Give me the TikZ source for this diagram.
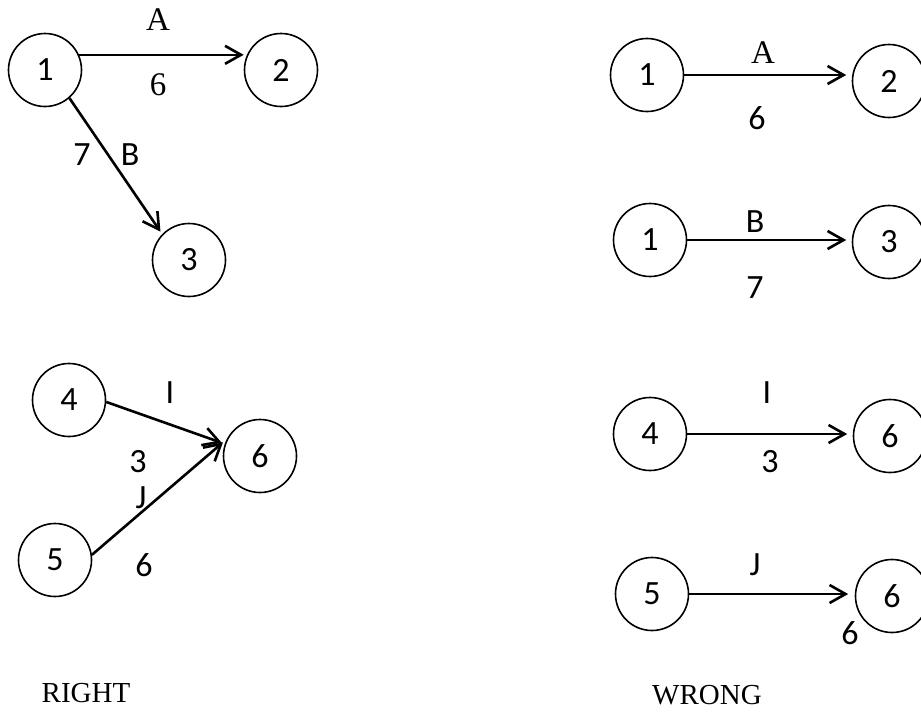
\documentclass[tikz,border=0pt]{standalone}
\usepackage{fontspec}
\setmainfont{Liberation Serif}
\setsansfont{Carlito}
\usetikzlibrary{arrows.meta}
\tikzset{
  ev/.style={draw,circle,minimum size=73pt,inner sep=0pt,line width=1.6pt},
  act/.style={-{Straight Barb[length=16pt,width=18pt]},line width=2.6pt},
  sf/.style={font=\sffamily\fontsize{34}{34}\selectfont},
  rm/.style={font=\rmfamily\fontsize{33}{33}\selectfont},
  ttl/.style={font=\rmfamily\fontsize{29}{29}\selectfont}
}
\begin{document}
\begin{tikzpicture}[x=1pt,y=-1pt]
      \useasboundingbox (0,0) rectangle (921,713);
      % right way
      \draw
        (45,70) node[ev,sf] (r1){1}
        (281,70) node[ev,sf] (r2){2}
        (189,260) node[ev,sf] (r3){3}
        (69,400) node[ev,sf] (r4){4}
        (260,456) node[ev,sf] (r6){6}
        (55,560) node[ev,sf] (r5){5};
      \begin{scope}[act]
        \draw (r1.24) -- (r1.24 -| r2.west);
        \draw[shorten >=3pt] (r1.-49) -- (r3.136);
        \draw[shorten >=3pt] (r4.-3) -- (r6.161);
        \draw[shorten >=5pt] (r5.8) -- (r6.153);
      \end{scope}
      \draw
        (158,20) node[rm] (rA){A}
        (158,85) node[rm] (rA6){6}
        (82,155) node[sf] (rB7){7}
        (130,155) node[sf] (rB){B}
        (170,393) node[sf] (rI){I}
        (138,462) node[sf] (rI3){3}
        (141,498) node[sf] (rJ){J}
        (144,565) node[sf] (rJ6){6}
        (86,693) node[ttl] (right){RIGHT};
      % wrong way
      \draw
        (647,75) node[ev,sf] (wa1){1}
        (889,81) node[ev,sf] (wa2){2}
        (650,240) node[ev,sf] (wb1){1}
        (889,242) node[ev,sf] (wb3){3}
        (650,434) node[ev,sf] (wi4){4}
        (890,436) node[ev,sf] (wi6){6}
        (652,594) node[ev,sf] (wj5){5}
        (892,596) node[ev,sf] (wj6){6};
      \begin{scope}[act,shorten >=5.5pt]
        \draw (wa1.east) -- (wa1.east -| wa2.west);
        \draw (wb1.east) -- (wb1.east -| wb3.west);
        \draw (wi4.east) -- (wi4.east -| wi6.west);
        \draw[shorten >=6.5pt] (wj5.east) -- (wj5.east -| wj6.west);
      \end{scope}
      \draw
        (763,53) node[rm] (wA){A}
        (757,118) node[sf] (wA6){6}
        (755,222) node[sf] (wB){B}
        (755,288) node[sf] (wB7){7}
        (767,393) node[sf] (wI){I}
        (770,462) node[sf] (wI3){3}
        (755,565) node[sf] (wJ){J}
        (850,633) node[sf] (wJ6){6}
        (707,695) node[ttl] (wrong){WRONG};
    \end{tikzpicture}
\end{document}
